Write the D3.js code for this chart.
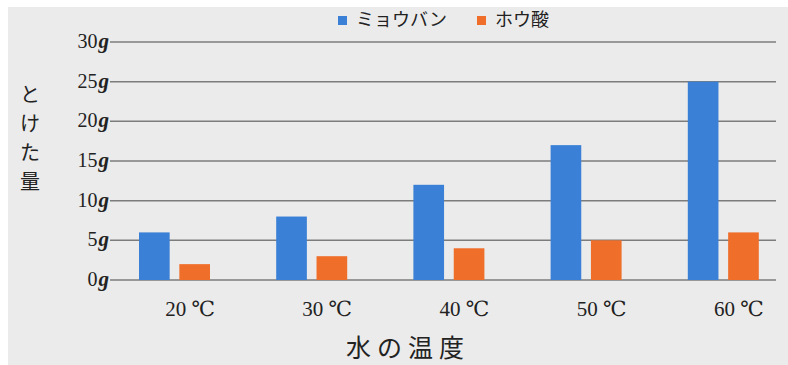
<!DOCTYPE html>
<html>
<head>
<meta charset="utf-8">
<script src="https://cdn.jsdelivr.net/npm/d3@7.9.0/dist/d3.min.js"></script>
<style>
  html, body { margin: 0; padding: 0; background: #ffffff; }
  svg { display: block; }
</style>
</head>
<body>
<svg id="chart" width="788" height="365"></svg>
<script>
// chart data
const temps = ['20', '30', '40', '50', '60'];
const seriesNames = ['ミョウバン', 'ホウ酸'];
const alum = [6, 8, 12, 17, 25];
const boric = [2, 3, 4, 5, 6];
const yTicks = [0, 5, 10, 15, 20, 25, 30];

const colors = ['#3a80d6', '#ef6f2a'];
const jp = '"Noto Sans CJK JP", "Noto Sans", sans-serif';
const serif = '"Liberation Serif", "DejaVu Serif", serif';

const svg = d3.select('#chart');

// paper background (photo has a thin white margin top/left)
svg.append('rect')
  .attr('x', 8).attr('y', 7)
  .attr('width', 780).attr('height', 358)
  .attr('fill', '#ebebeb');

// scales
const y = d3.scaleLinear().domain([0, 30]).range([280, 42]);
const x = d3.scaleBand().domain(temps).range([106, 792]).paddingInner(0).paddingOuter(0);
const xInner = d3.scaleBand().domain([0, 1]).range([33, 104]).paddingInner(0.24);

// gridlines
svg.append('g')
  .selectAll('line')
  .data(yTicks)
  .join('line')
  .attr('x1', 110)
  .attr('x2', 776)
  .attr('y1', d => y(d))
  .attr('y2', d => y(d))
  .attr('stroke', '#7c7c7c')
  .attr('stroke-width', 1.5);

// y tick labels
const yLab = svg.append('g')
  .selectAll('text')
  .data(yTicks)
  .join('text')
  .attr('x', 109)
  .attr('y', d => y(d) + 6)
  .attr('text-anchor', 'end')
  .attr('font-family', serif)
  .attr('font-size', 20)
  .attr('fill', '#222');
yLab.append('tspan').text(d => d);
yLab.append('tspan').attr('dx', 1).attr('font-style', 'italic').attr('font-weight', 'bold').attr('font-size', 21).text('g');

// bars
const data = temps.map((t, i) => ({ t, vals: [alum[i], boric[i]] }));
const groups = svg.append('g')
  .selectAll('g')
  .data(data)
  .join('g')
  .attr('transform', d => `translate(${x(d.t)},0)`);

groups.selectAll('rect')
  .data(d => d.vals.map((v, k) => ({ v, k })))
  .join('rect')
  .attr('x', d => xInner(d.k))
  .attr('width', xInner.bandwidth())
  .attr('y', d => y(d.v))
  .attr('height', d => y(0) - y(d.v))
  .attr('fill', d => colors[d.k]);

// x tick labels
svg.append('g')
  .selectAll('text')
  .data(temps)
  .join('text')
  .attr('x', d => x(d) + 84)
  .attr('y', 316)
  .attr('text-anchor', 'middle')
  .attr('font-family', serif)
  .attr('font-size', 21)
  .attr('fill', '#222')
  .text(d => d + ' ℃');

// y axis title, stacked vertically
const yTitle = ['と', 'け', 'た', '量'];
svg.append('g')
  .selectAll('text')
  .data(yTitle)
  .join('text')
  .attr('x', 30)
  .attr('y', (d, i) => 102 + i * 29)
  .attr('text-anchor', 'middle')
  .attr('font-family', jp)
  .attr('font-size', 20)
  .attr('fill', '#222')
  .text(d => d);

// x axis title
svg.append('text')
  .attr('x', 408)
  .attr('y', 357)
  .attr('text-anchor', 'middle')
  .attr('font-family', jp)
  .attr('font-size', 25)
  .attr('letter-spacing', 6)
  .attr('fill', '#222')
  .text('水の温度');

// legend
const legendX = [338, 477];
const legend = svg.append('g')
  .selectAll('g')
  .data(seriesNames)
  .join('g')
  .attr('transform', (d, i) => `translate(${legendX[i]},16)`);
legend.append('rect')
  .attr('width', 9).attr('height', 9)
  .attr('fill', (d, i) => colors[i]);
legend.append('text')
  .attr('x', 18)
  .attr('y', 10)
  .attr('font-family', jp)
  .attr('font-size', 18)
  .attr('fill', '#222')
  .text(d => d);
</script>
</body>
</html>
